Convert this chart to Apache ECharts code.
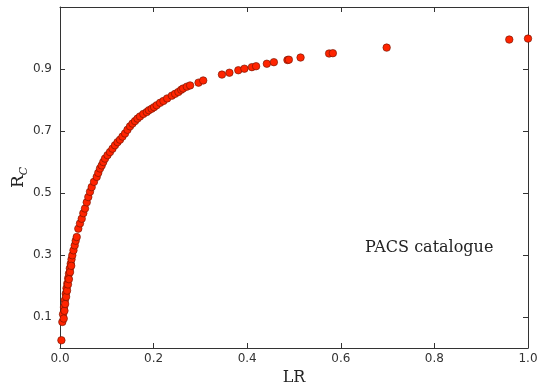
<!DOCTYPE html>
<html><head><meta charset="utf-8">
<script src="https://cdn.jsdelivr.net/npm/echarts@6/dist/echarts.min.js"></script>
<style>html,body{margin:0;padding:0;background:#fff}#c{width:539px;height:386px}</style>
</head><body><div id="c"></div>
<script>
// LR values (x) and R_C values (y)
const lrValues = [0.003,
 0.005,0.0064,0.0085,0.0103,0.0122,0.0139,0.0156,0.0175,0.0192,0.021,0.0229,0.0246,0.0263,0.0288,0.0314,0.0335,0.0357,
 0.008,0.0095,0.011,0.013,0.015,0.017,0.019,0.0215,0.024,
 0.0391,0.0427,0.0464,0.0498,0.0534,0.0571,0.0605,0.0641,0.0677,0.0726,0.0784,0.0818,0.0855,0.0891,0.0925,0.0962,
 0.1015,0.1068,0.1122,0.1175,0.1229,0.1282,0.1335,0.1389,0.1442,0.1496,0.1549,0.1603,0.1656,0.1709,0.178,0.1853,0.190,0.196,0.201,0.2066,
 0.214,0.221,0.229,0.239,0.246,0.253,0.259,0.263,0.271,0.278,0.296,0.306,
 0.346,0.362,0.381,0.394,0.410,0.419,0.442,0.457,0.486,0.489,0.514,0.575,0.583,0.698,0.960,1.000];
const rcValues = [0.025,
 0.084,0.109,0.132,0.154,0.175,0.193,0.208,0.225,0.240,0.257,0.272,0.286,0.299,0.315,0.331,0.346,0.358,
 0.095,0.120,0.142,0.165,0.185,0.205,0.222,0.245,0.265,
 0.385,0.402,0.417,0.435,0.450,0.470,0.487,0.504,0.519,0.536,0.552,0.565,0.579,0.589,0.600,0.611,
 0.622,0.632,0.643,0.654,0.664,0.672,0.682,0.692,0.704,0.715,0.724,0.732,0.740,0.747,0.755,0.761,0.767,0.772,0.777,0.783,
 0.791,0.797,0.805,0.814,0.820,0.826,0.833,0.837,0.843,0.847,0.856,0.863,
 0.882,0.888,0.896,0.901,0.906,0.909,0.917,0.922,0.929,0.930,0.937,0.950,0.951,0.969,0.995,0.998];
const xTicks = [0, 0.2, 0.4, 0.6, 0.8, 1.0];
const yTicks = [0.1, 0.3, 0.5, 0.7, 0.9];
const xName = 'LR';
const annotation = 'PACS catalogue';

const points = lrValues.map((x, i) => [x, rcValues[i]]);
const frame = '#333';
const lab = {color: '#333', fontFamily: 'DejaVu Sans', fontSize: 12};
const chart = echarts.init(document.getElementById('c'), null, {renderer: 'canvas'});
chart.setOption({
  animation: false,
  backgroundColor: '#fff',
  grid: {left: 60, right: 11, top: 7, bottom: 38, containLabel: false, outerBoundsMode: 'none'},
  xAxis: [
    {type: 'value', min: 0, max: 1, position: 'bottom',
     name: xName, nameLocation: 'middle', nameGap: 22, nameMoveOverlap: false,
     nameTextStyle: {fontFamily: 'DejaVu Serif', fontSize: 16, color: '#222'},
     axisLine: {show: true, onZero: false, lineStyle: {color: frame, width: 1}},
     axisTick: {show: true, inside: true, length: 5, customValues: xTicks, lineStyle: {color: frame}},
     axisLabel: {show: true, customValues: xTicks, margin: 5, formatter: v => v.toFixed(1), ...lab},
     splitLine: {show: false}},
    {type: 'value', min: 0, max: 1, position: 'top',
     axisLine: {show: true, onZero: false, lineStyle: {color: frame, width: 1}},
     axisTick: {show: true, inside: true, length: 5, customValues: xTicks, lineStyle: {color: frame}},
     axisLabel: {show: false}, splitLine: {show: false}}
  ],
  yAxis: [
    {type: 'value', min: 0, max: 1.1, position: 'left',
     name: '{a|R}{b|C}', nameLocation: 'middle', nameGap: 30, nameRotate: 90, nameMoveOverlap: false,
     nameTextStyle: {rich: {
       a: {fontFamily: 'DejaVu Serif', fontSize: 17, color: '#222', lineHeight: 22},
       b: {fontFamily: 'DejaVu Serif', fontSize: 11, fontStyle: 'italic', color: '#222', lineHeight: 12, verticalAlign: 'bottom'}
     }},
     axisLine: {show: true, onZero: false, lineStyle: {color: frame, width: 1}},
     axisTick: {show: true, inside: true, length: 5, customValues: yTicks, lineStyle: {color: frame}},
     axisLabel: {show: true, customValues: yTicks, margin: 8, formatter: v => v.toFixed(1), ...lab},
     splitLine: {show: false}},
    {type: 'value', min: 0, max: 1.1, position: 'right',
     axisLine: {show: true, onZero: false, lineStyle: {color: frame, width: 1}},
     axisTick: {show: true, inside: true, length: 5, customValues: yTicks, lineStyle: {color: frame}},
     axisLabel: {show: false}, splitLine: {show: false}}
  ],
  series: [{
    type: 'scatter', xAxisIndex: 0, yAxisIndex: 0,
    data: points, symbolSize: 7.5,
    itemStyle: {color: '#ff2400', borderColor: '#6a1200', borderWidth: 0.6, opacity: 1}
  }],
  graphic: [{
    type: 'text', left: 365, top: 240,
    style: {text: annotation, font: '16px "DejaVu Serif"', fill: '#222'}
  }]
});
</script>
</body></html>
